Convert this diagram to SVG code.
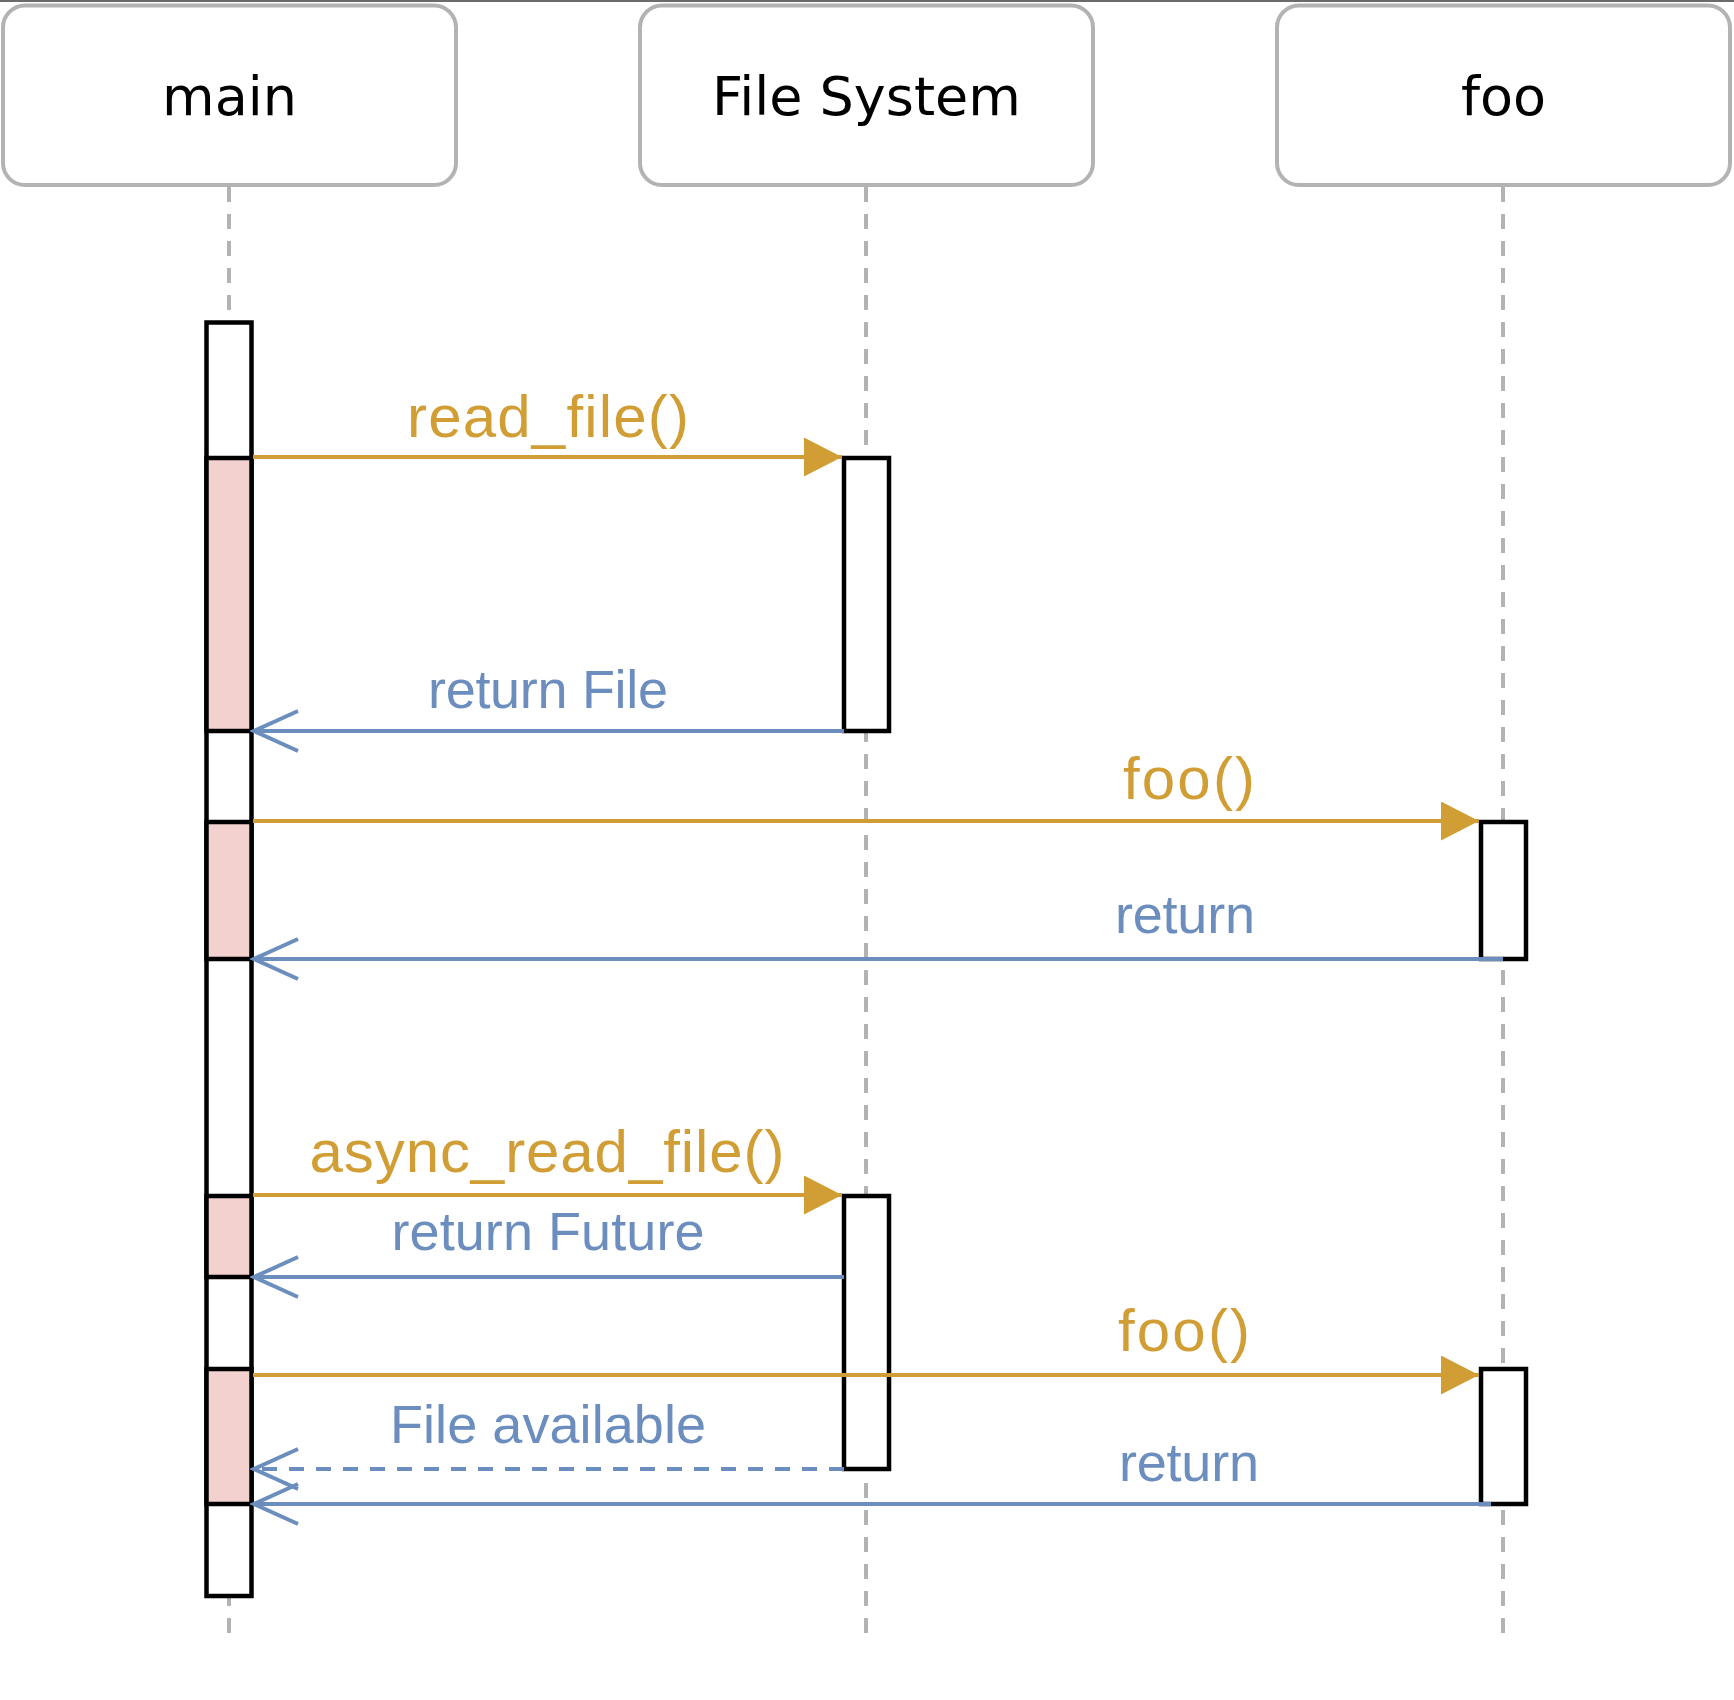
<svg xmlns="http://www.w3.org/2000/svg" width="1734" height="1700" viewBox="0 0 1734 1700">
  <style>
    .head { fill: #ffffff; stroke: #b3b3b3; stroke-width: 4; }
    .htxt { font-family: "DejaVu Sans", sans-serif; font-size: 54px; fill: #000000; text-anchor: middle; }
    .life { stroke: #b3b3b3; stroke-width: 4; stroke-dasharray: 15 12; fill: none; }
    .act { fill: #ffffff; stroke: #000000; stroke-width: 4.5; }
    .busy { fill: #f2d1cf; stroke: #000000; stroke-width: 4.5; }
    .call { stroke: #d19e35; stroke-width: 4; fill: none; }
    .ret { stroke: #6c8ebf; stroke-width: 4; fill: none; }
    .dash { stroke-dasharray: 15 12; }
    .lbl { font-family: "Liberation Sans", Arial, sans-serif; text-anchor: middle; }
    .lcall { fill: #d19e35; font-size: 60px; }
    .lret { fill: #6c8ebf; font-size: 54px; }
  </style>
  <defs>
    <marker id="tri" viewBox="0 0 38 39" refX="38" refY="19.5" markerWidth="38" markerHeight="39" markerUnits="userSpaceOnUse" orient="auto">
      <path d="M0,0 L38,19.5 L0,39 Z" fill="#d19e35"/>
    </marker>
    <marker id="open" viewBox="-4 -4 52 48" refX="44" refY="20" markerWidth="52" markerHeight="48" markerUnits="userSpaceOnUse" orient="auto">
      <path d="M0,0 L44,20 L0,40" fill="none" stroke="#6c8ebf" stroke-width="4"/>
    </marker>
  </defs>
  <rect x="0" y="0" width="1734" height="1700" fill="#ffffff"/>
  <rect x="0" y="0" width="1734" height="2" fill="#6b6b6b"/>

  <g id="main">
    <rect class="head" x="3" y="5.5" width="453" height="179.5" rx="22"/>
    <text class="htxt" x="229.5" y="115">main</text>
    <line class="life" x1="229" y1="187" x2="229" y2="1642"/>
  </g>
  <g id="file-system">
    <rect class="head" x="640" y="5.5" width="453" height="179.5" rx="22"/>
    <text class="htxt" x="866.5" y="115">File System</text>
    <line class="life" x1="866" y1="187" x2="866" y2="1642"/>
  </g>
  <g id="foo">
    <rect class="head" x="1277" y="5.5" width="453" height="179.5" rx="22"/>
    <text class="htxt" x="1503.5" y="115">foo</text>
    <line class="life" x1="1503" y1="187" x2="1503" y2="1642"/>
  </g>

  <g id="main-activation">
    <rect class="act" x="206.5" y="322.5" width="45" height="1273.5"/>
    <rect class="busy" x="206.5" y="458" width="45" height="273"/>
    <rect class="busy" x="206.5" y="822" width="45" height="137"/>
    <rect class="busy" x="206.5" y="1196" width="45" height="81"/>
    <rect class="busy" x="206.5" y="1369" width="45" height="135"/>
  </g>
  <g id="fs-activation-1">
    <rect class="act" x="844" y="458" width="45" height="273"/>
  </g>
  <g id="fs-activation-2">
    <rect class="act" x="844" y="1196" width="45" height="273"/>
  </g>
  <g id="foo-activation-1">
    <rect class="act" x="1481" y="822" width="45" height="137"/>
  </g>
  <g id="foo-activation-2">
    <rect class="act" x="1481" y="1369" width="45" height="135"/>
  </g>

  <g id="connectors">
    <path class="call" d="M253,457 H842" marker-end="url(#tri)"/>
    <path class="ret" d="M844,731 H254" marker-end="url(#open)"/>
    <path class="call" d="M253,821 H1479" marker-end="url(#tri)"/>
    <path class="ret" d="M1503,959 H254" marker-end="url(#open)"/>
    <path class="call" d="M253,1195 H842" marker-end="url(#tri)"/>
    <path class="ret" d="M844,1277 H254" marker-end="url(#open)"/>
    <path class="call" d="M253,1375 H1479" marker-end="url(#tri)"/>
    <path class="ret dash" d="M844,1469 H254" marker-end="url(#open)"/>
    <path class="ret" d="M1491,1504 H254" marker-end="url(#open)"/>

    <text class="lbl lcall" x="548" y="437" textLength="282" lengthAdjust="spacing">read_file()</text>
    <text class="lbl lret" x="548" y="708" textLength="240" lengthAdjust="spacing">return File</text>
    <text class="lbl lcall" x="1189" y="799" textLength="132" lengthAdjust="spacing">foo()</text>
    <text class="lbl lret" x="1185" y="933" textLength="140" lengthAdjust="spacing">return</text>
    <text class="lbl lcall" x="547" y="1172" textLength="475" lengthAdjust="spacing">async_read_file()</text>
    <text class="lbl lret" x="548" y="1250" textLength="313" lengthAdjust="spacing">return Future</text>
    <text class="lbl lcall" x="1184" y="1351" textLength="132" lengthAdjust="spacing">foo()</text>
    <text class="lbl lret" x="548" y="1443" textLength="316" lengthAdjust="spacing">File available</text>
    <text class="lbl lret" x="1189" y="1481" textLength="140" lengthAdjust="spacing">return</text>
  </g>
</svg>
